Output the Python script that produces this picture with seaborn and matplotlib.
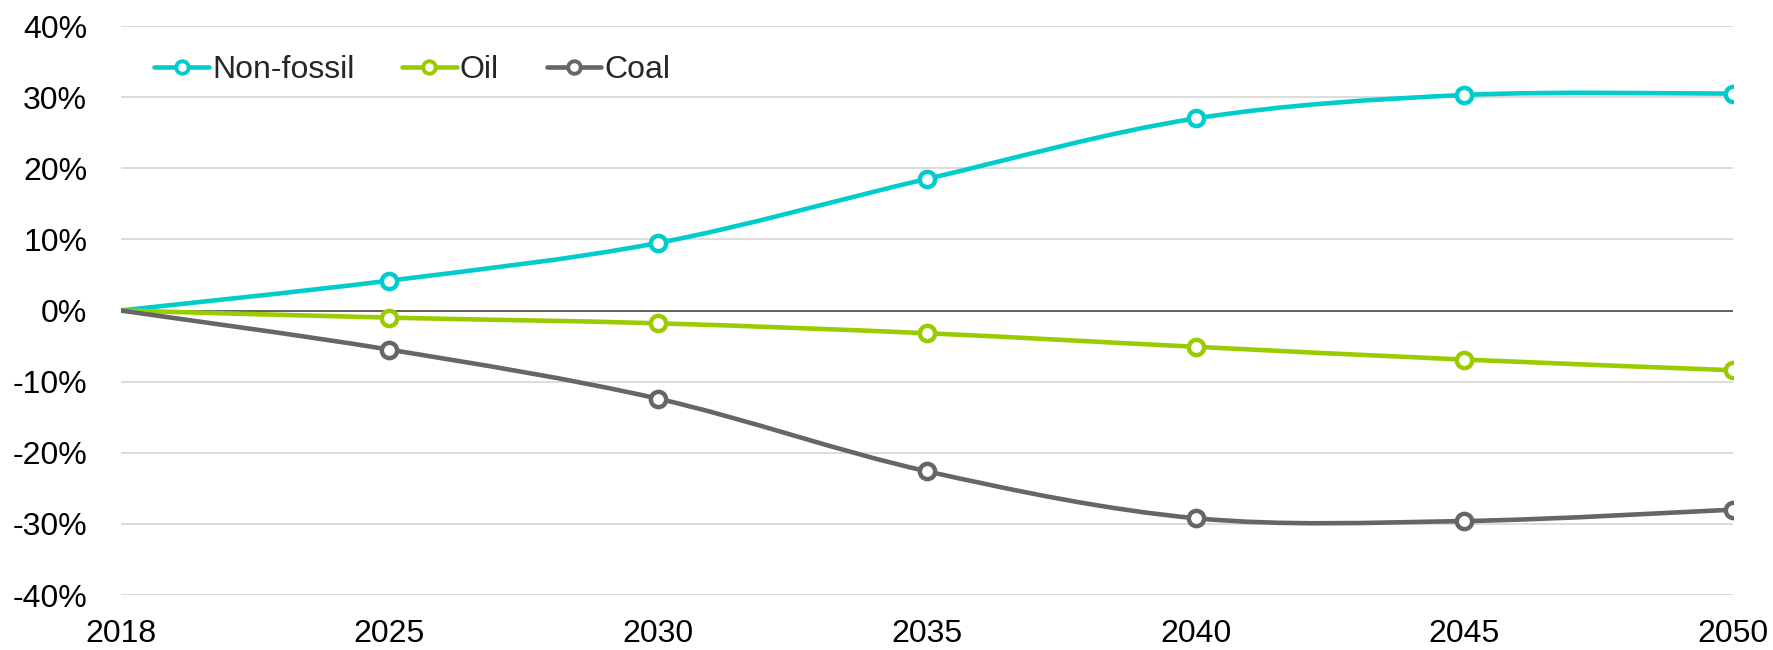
import numpy as np
import pandas as pd
import matplotlib
matplotlib.use('Agg')
import matplotlib.pyplot as plt
from matplotlib.path import Path
from matplotlib.patches import PathPatch
from matplotlib.lines import Line2D
import seaborn as sns

# data (% change vs 2018)
years = ['2018', '2025', '2030', '2035', '2040', '2045', '2050']
non_fossil = [0.0, 4.2, 9.5, 18.5, 27.0, 30.3, 30.5]
oil = [0.0, -1.0, -1.8, -3.2, -5.1, -6.9, -8.4]
coal = [0.0, -5.5, -12.4, -22.6, -29.2, -29.6, -28.0]

series = {'Non-fossil': non_fossil, 'Oil': oil, 'Coal': coal}
colors = {'Non-fossil': '#00CCCC', 'Oil': '#99CC00', 'Coal': '#666666'}

sns.set_theme(style='white')
plt.rcParams['font.family'] = ['Liberation Sans', 'DejaVu Sans']

FS = 23

fig = plt.figure(figsize=(17.73, 6.5), dpi=100)
ax = fig.add_axes([0.068, 0.0846, 0.9095, 0.8754])

x = np.arange(len(years))


def smooth_path(xs, ys):
    # Excel-like smoothed line: Catmull-Rom segments as cubic Bezier
    pts = np.column_stack([xs, ys]).astype(float)
    n = len(pts)
    verts = [pts[0]]
    codes = [Path.MOVETO]
    for i in range(n - 1):
        p0 = pts[i - 1] if i > 0 else pts[i]
        p1 = pts[i]
        p2 = pts[i + 1]
        p3 = pts[i + 2] if i + 2 < n else pts[i + 1]
        c1 = p1 + (p2 - p0) / 6.0
        c2 = p2 - (p3 - p1) / 6.0
        verts += [c1, c2, p2]
        codes += [Path.CURVE4] * 3
    return Path(verts, codes)


ax.axhline(0, color='#595959', lw=1.3, zorder=2)

for name, vals in series.items():
    patch = PathPatch(smooth_path(x, vals), facecolor='none', edgecolor=colors[name],
                      lw=3.3, capstyle='round', zorder=3)
    ax.add_patch(patch)
    df = pd.DataFrame({'x': x[1:], 'y': vals[1:]})
    sns.lineplot(data=df, x='x', y='y', ax=ax, linestyle='none', marker='o',
                 markersize=11, markerfacecolor='white', markeredgecolor=colors[name],
                 markeredgewidth=3.2, zorder=4)

ax.set_xlim(0, len(years) - 1)
ax.set_ylim(-40, 40)
ax.set_xticks(x)
ax.set_xticklabels(years, fontsize=FS)
ax.set_yticks(range(-40, 41, 10))
ax.set_yticklabels([f'{v}%' for v in range(-40, 41, 10)], fontsize=FS)
ax.set_xlabel('')
ax.set_ylabel('')
ax.tick_params(axis='x', length=0, pad=17, labelsize=FS, colors='black')
ax.tick_params(axis='y', length=0, pad=24, labelsize=FS, colors='black')

ax.grid(axis='y', color='#D9D9D9', lw=1.3, zorder=0)
ax.grid(axis='x', visible=False)
for s in ax.spines.values():
    s.set_visible(False)

handles = [Line2D([0], [0], color=colors[n], lw=3.3, marker='o', markersize=9,
                  markerfacecolor='white', markeredgecolor=colors[n], markeredgewidth=2.8)
           for n in series]
ax.legend(handles, list(series.keys()), loc='center left', bbox_to_anchor=(0.021, 0.922),
          ncol=3, frameon=False, fontsize=FS, handlelength=1.7, handletextpad=0.1,
          columnspacing=1.5, borderpad=0, borderaxespad=0)

fig.savefig('out.png', dpi=100, facecolor='white')
